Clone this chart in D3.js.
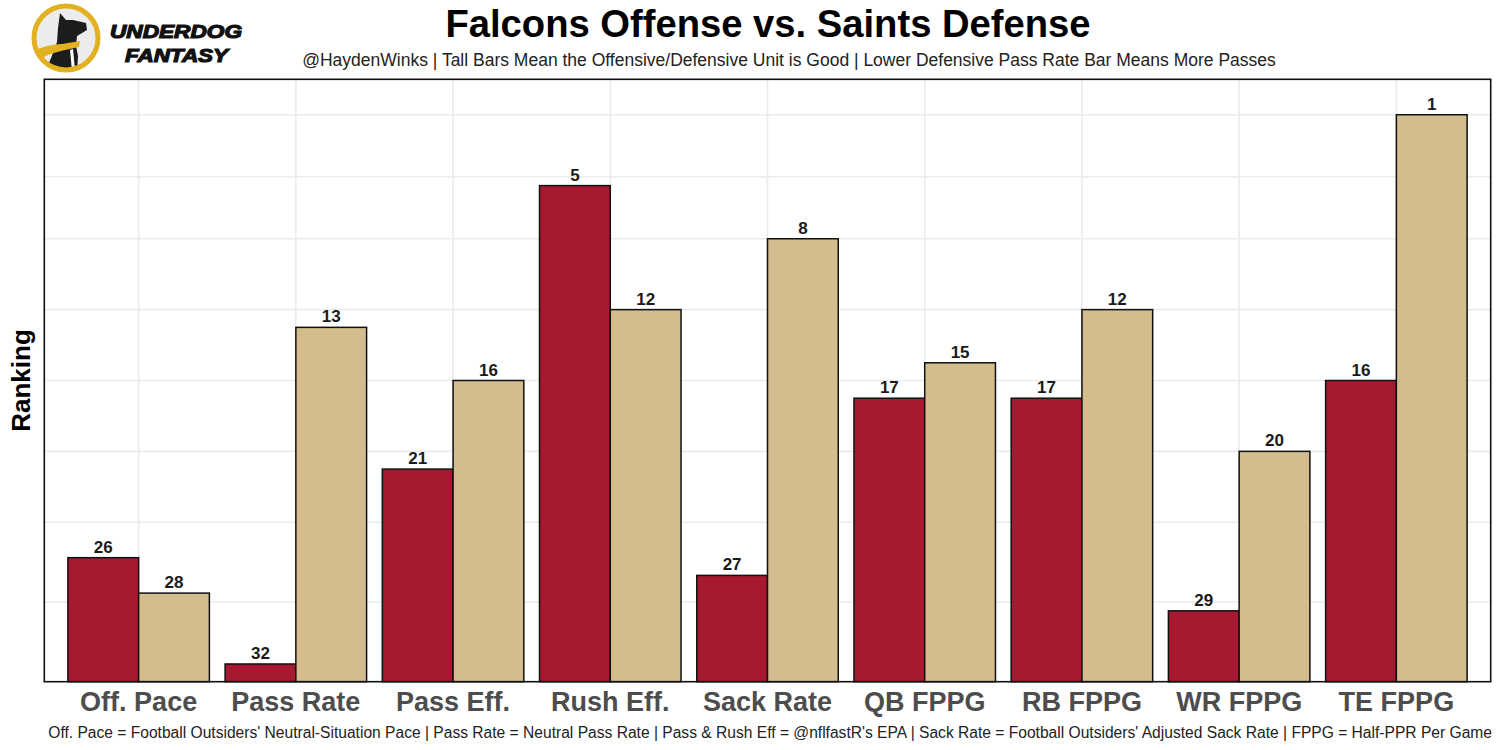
<!DOCTYPE html>
<html>
<head>
<meta charset="utf-8">
<script src="https://cdn.jsdelivr.net/npm/d3@7"></script>
<style>
  html, body { margin: 0; padding: 0; background: #fff; }
  svg { display: block; }
  text { font-family: "Liberation Sans", Arial, sans-serif; }
</style>
</head>
<body>
<script>
// ---- data ----
const categories = ["Off. Pace", "Pass Rate", "Pass Eff.", "Rush Eff.", "Sack Rate", "QB FPPG", "RB FPPG", "WR FPPG", "TE FPPG"];
const offenseRank = [26, 32, 21, 5, 27, 17, 17, 29, 16];   // Falcons offense
const defenseRank = [28, 13, 16, 12, 8, 15, 12, 20, 1];    // Saints defense
const gridValues = [4.5, 9, 13, 17, 21, 25, 28.5, 32];
const units = ["Falcons Offense", "Saints Defense"];
const unitColors = ["#A71930", "#D3BC8D"];
const titleText = "Falcons Offense vs. Saints Defense";
const subtitleText = "@HaydenWinks | Tall Bars Mean the Offensive/Defensive Unit is Good | Lower Defensive Pass Rate Bar Means More Passes";
const captionText = "Off. Pace = Football Outsiders' Neutral-Situation Pace | Pass Rate = Neutral Pass Rate | Pass & Rush Eff = @nflfastR's EPA | Sack Rate = Football Outsiders' Adjusted Sack Rate | FPPG = Half-PPR Per Game";
const yTitle = "Ranking";
const nTeams = 32;

const W = 1500, H = 750;
const panel = { left: 44.3, right: 1490.7, top: 79.3, bottom: 681.7 };

const svg = d3.select("body").append("svg").attr("width", W).attr("height", H);
svg.append("rect").attr("width", W).attr("height", H).attr("fill", "#fff");

const x = d3.scaleBand().domain(categories).range([panel.left, panel.right]).paddingInner(0).paddingOuter(0.1);
const groupW = x.bandwidth() * 0.9;
const xSub = d3.scaleBand().domain(units).range([0, groupW]);
const y = d3.scaleLinear().domain([0, 34]).range([panel.bottom, panel.top]);

// gridlines
const g = svg.append("g");
g.selectAll("line.hg").data(gridValues).join("line")
  .attr("x1", panel.left).attr("x2", panel.right)
  .attr("y1", d => y(d)).attr("y2", d => y(d))
  .attr("stroke", "#ebebeb").attr("stroke-width", 1.6);
g.selectAll("line.vg").data(categories).join("line")
  .attr("x1", d => x(d) + x.bandwidth() / 2).attr("x2", d => x(d) + x.bandwidth() / 2)
  .attr("y1", panel.top).attr("y2", panel.bottom)
  .attr("stroke", "#ebebeb").attr("stroke-width", 1.6);

// bars
const rows = [];
categories.forEach((c, i) => {
  rows.push({ cat: c, unit: units[0], rank: offenseRank[i], color: unitColors[0] });
  rows.push({ cat: c, unit: units[1], rank: defenseRank[i], color: unitColors[1] });
});
const bx = d => x(d.cat) + x.bandwidth() * 0.05 + xSub(d.unit);
const val = d => nTeams + 1 - d.rank;

svg.append("g").selectAll("rect").data(rows).join("rect")
  .attr("x", bx)
  .attr("y", d => y(val(d)))
  .attr("width", xSub.bandwidth())
  .attr("height", d => y(0) - y(val(d)))
  .attr("fill", d => d.color)
  .attr("stroke", "#111").attr("stroke-width", 1.5);

svg.append("g").selectAll("text").data(rows).join("text")
  .attr("x", d => bx(d) + xSub.bandwidth() / 2)
  .attr("y", d => y(val(d)) - 5)
  .attr("text-anchor", "middle")
  .attr("font-weight", "bold").attr("font-size", 17)
  .attr("fill", "#1a1a1a")
  .text(d => d.rank);

// panel border
svg.append("rect")
  .attr("x", panel.left).attr("y", panel.top)
  .attr("width", panel.right - panel.left).attr("height", panel.bottom - panel.top)
  .attr("fill", "none").attr("stroke", "#111").attr("stroke-width", 1.6);

// x axis labels
const xAxis = d3.axisBottom(x).tickSize(0).tickPadding(0);
const ax = svg.append("g").attr("transform", `translate(0,${panel.bottom})`).call(xAxis);
ax.select(".domain").remove();
ax.selectAll("text")
  .attr("dy", 0).attr("y", 29)
  .attr("font-family", "'Liberation Sans', Arial, sans-serif")
  .attr("font-weight", "bold").attr("font-size", 27)
  .attr("fill", "#4d4d4d");

// titles
svg.append("text").attr("x", 768).attr("y", 37).attr("text-anchor", "middle")
  .attr("font-weight", "bold").attr("font-size", 38.2).attr("fill", "#000").text(titleText);
svg.append("text").attr("x", 789).attr("y", 66).attr("text-anchor", "middle")
  .attr("font-size", 17.5).attr("fill", "#222").text(subtitleText);
svg.append("text").attr("x", 1492).attr("y", 738).attr("text-anchor", "end")
  .attr("font-size", 15.6).attr("fill", "#222").text(captionText);
svg.append("text").attr("transform", `translate(30,${(panel.top + panel.bottom) / 2}) rotate(-90)`)
  .attr("text-anchor", "middle").attr("font-weight", "bold").attr("font-size", 26)
  .attr("fill", "#000").text(yTitle);

// logo
const logo = svg.append("g");
const cx = 66, cy = 38, r = 32;
logo.append("clipPath").attr("id", "lc").append("circle").attr("cx", cx).attr("cy", cy).attr("r", r);
logo.append("circle").attr("cx", cx).attr("cy", cy).attr("r", r).attr("fill", "#ececec");
const lg = logo.append("g").attr("clip-path", "url(#lc)");
lg.append("path").attr("fill", "#1c1c1c")
  .attr("d", "M60,13 L66,20 L73,20 L86,23 L87,30 L82,33 L77,36 L76,46 L78,56 L77,75 L44,75 L51,58 L57,42 L58,28 Z");
lg.append("path").attr("fill", "#e2b020")
  .attr("d", "M28,54 Q45,44 62,44 L80,41 L79,47 Q62,50 48,55 Q38,60 30,64 Z");
lg.append("path").attr("fill", "#fff")
  .attr("d", "M70,50 L73,49 L75,70 L72,71 Z");
logo.append("circle").attr("cx", cx).attr("cy", cy).attr("r", r).attr("fill", "none")
  .attr("stroke", "#e2b020").attr("stroke-width", 5);
logo.append("text").attr("x", 110).attr("y", 38)
  .attr("font-family", "'DejaVu Sans', sans-serif").attr("font-weight", "bold").attr("font-style", "italic")
  .attr("font-size", 19).attr("textLength", 132).attr("lengthAdjust", "spacingAndGlyphs")
  .attr("fill", "#111").attr("stroke", "#111").attr("stroke-width", 1.2).text("UNDERDOG");
logo.append("text").attr("x", 125).attr("y", 62)
  .attr("font-family", "'DejaVu Sans', sans-serif").attr("font-weight", "bold").attr("font-style", "italic")
  .attr("font-size", 19).attr("textLength", 103).attr("lengthAdjust", "spacingAndGlyphs")
  .attr("fill", "#111").attr("stroke", "#111").attr("stroke-width", 1.2).text("FANTASY");
</script>
</body>
</html>
